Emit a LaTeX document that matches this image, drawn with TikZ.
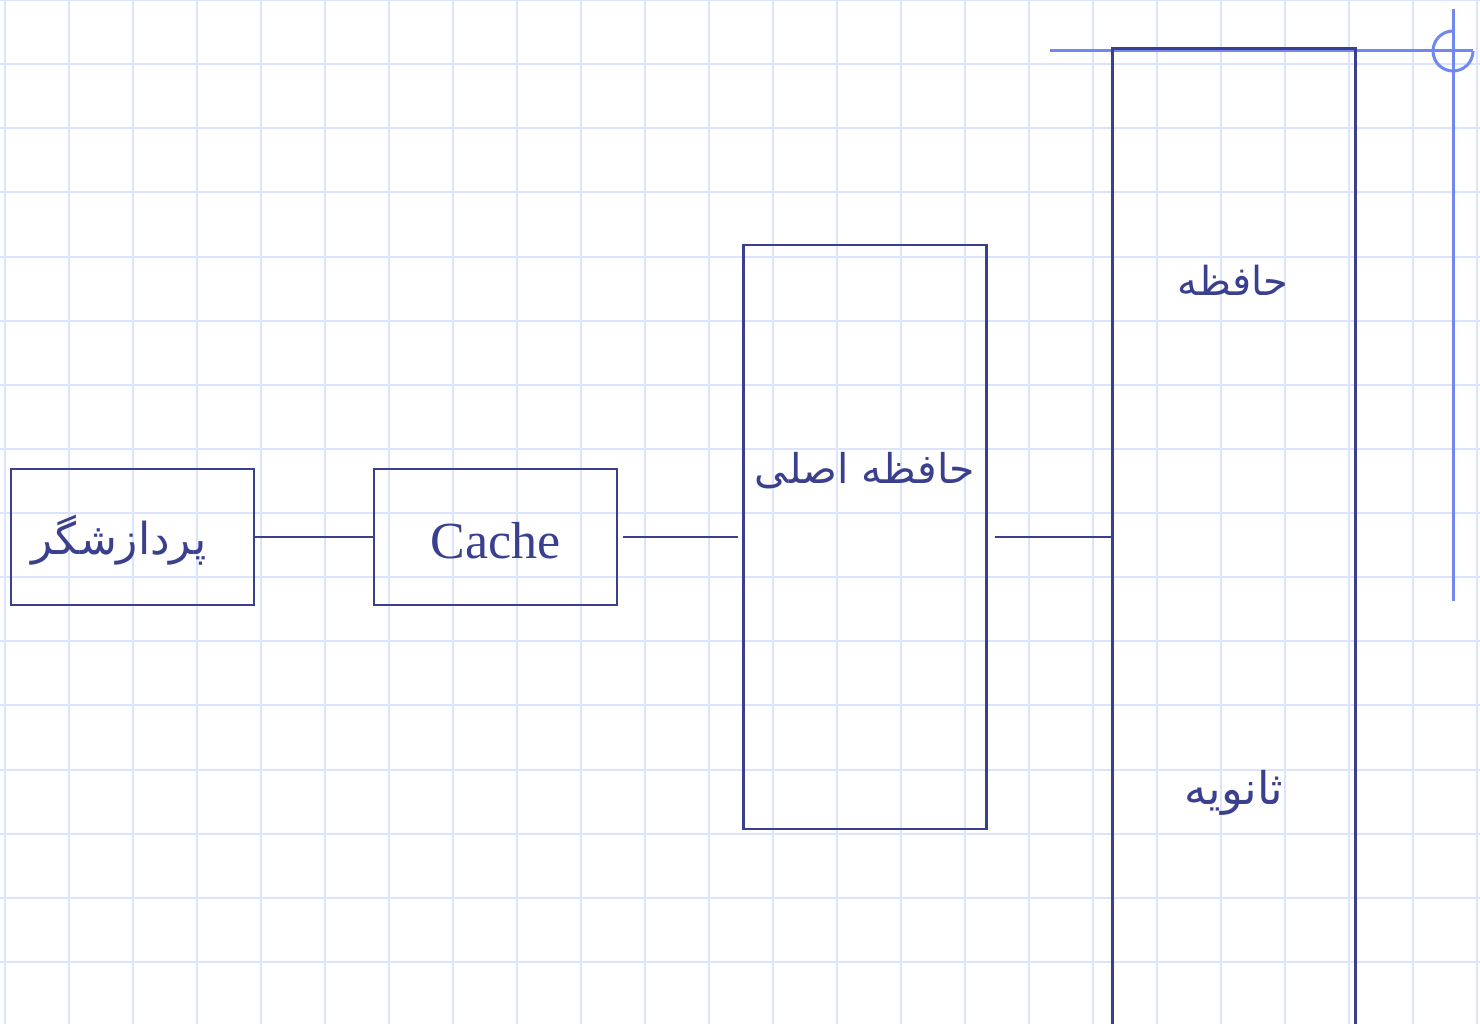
\documentclass[tikz,border=0pt]{standalone}
\usepackage{fontspec}
\setmainfont{Liberation Serif}
\newfontfamily\arabicfont[Script=Arabic]{DejaVu Sans}
\TeXXeTstate=1
\definecolor{ink}{RGB}{58,64,142}
\definecolor{gridc}{RGB}{220,227,252}
\definecolor{guide}{RGB}{112,136,240}
\tikzset{
  boxnode/.style={draw=ink,line width=2.8pt,minimum width=243pt,inner sep=0pt,fill=none},
  wire/.style={draw=ink,line width=2.8pt},
  fatext/.style={text=ink,inner sep=0pt},
  entext/.style={text=ink,font=\fontsize{52}{60}\selectfont,inner sep=0pt},
  guideline/.style={draw=guide,line width=3pt}
}
\newcommand\fasize[1]{\arabicfont\fontsize{#1}{#1}\selectfont}
\begin{document}
\begin{tikzpicture}[x=1pt,y=-1pt]
\useasboundingbox (0,0) rectangle (1480,1024);
\clip (0,0) rectangle (1480,1024);
\fill[white] (0,0) rectangle (1480,1024);
% grid
\foreach \i in {0,...,23} {\draw[gridc,line width=2pt] (5+64*\i,0) -- (5+64*\i,1024);}
\foreach \j in {0,...,16} {\draw[gridc,line width=2pt] (0,64.13*\j) -- (1480,64.13*\j);}
% guides (top right)
\coordinate (gc) at (1453,51);
\coordinate (gl) at (1050,51);
\coordinate (gt) at (1453,9);
\coordinate (gb) at (1453,601);
\draw[guideline] (gl) -- ([xshift=20pt]gc);
\draw[guideline] (gt) -- (gb);
\draw[guideline] ([xshift=20pt]gc) arc[start angle=0,end angle=-270,radius=20pt];
% boxes
\node[boxnode,minimum height=136pt] (proc) at (132.5,537) {};
\node[boxnode,minimum height=136pt] (cache) at (495.5,537) {};
\node[boxnode,minimum height=584pt] (main) at (865,537) {};
\node[boxnode,minimum height=1060pt] (sec) at (1234,578.5) {};
% texts
\node[fatext,font=\fasize{44}] (tproc) at (119,540) {\beginR پردازشگر\endR};
\node[entext] (tcache) at (495.5,541) {Cache};
\node[fatext,font=\fasize{41}] (tmain) at (865,471) {\beginR حافظه اصلی\endR};
\node[fatext,font=\fasize{40}] (tsec1) at (1233,280) {\beginR حافظه\endR};
\node[fatext,font=\fasize{45}] (tsec2) at (1234,793) {\beginR ثانویه\endR};
% connectors
\draw[wire] (proc.east) -- (cache.west);
\draw[wire] ([xshift=5pt]cache.east) -- ([xshift=-4pt]main.west);
\draw[wire] ([xshift=7pt]main.east) -- (sec.west |- main.east);
\end{tikzpicture}
\end{document}
